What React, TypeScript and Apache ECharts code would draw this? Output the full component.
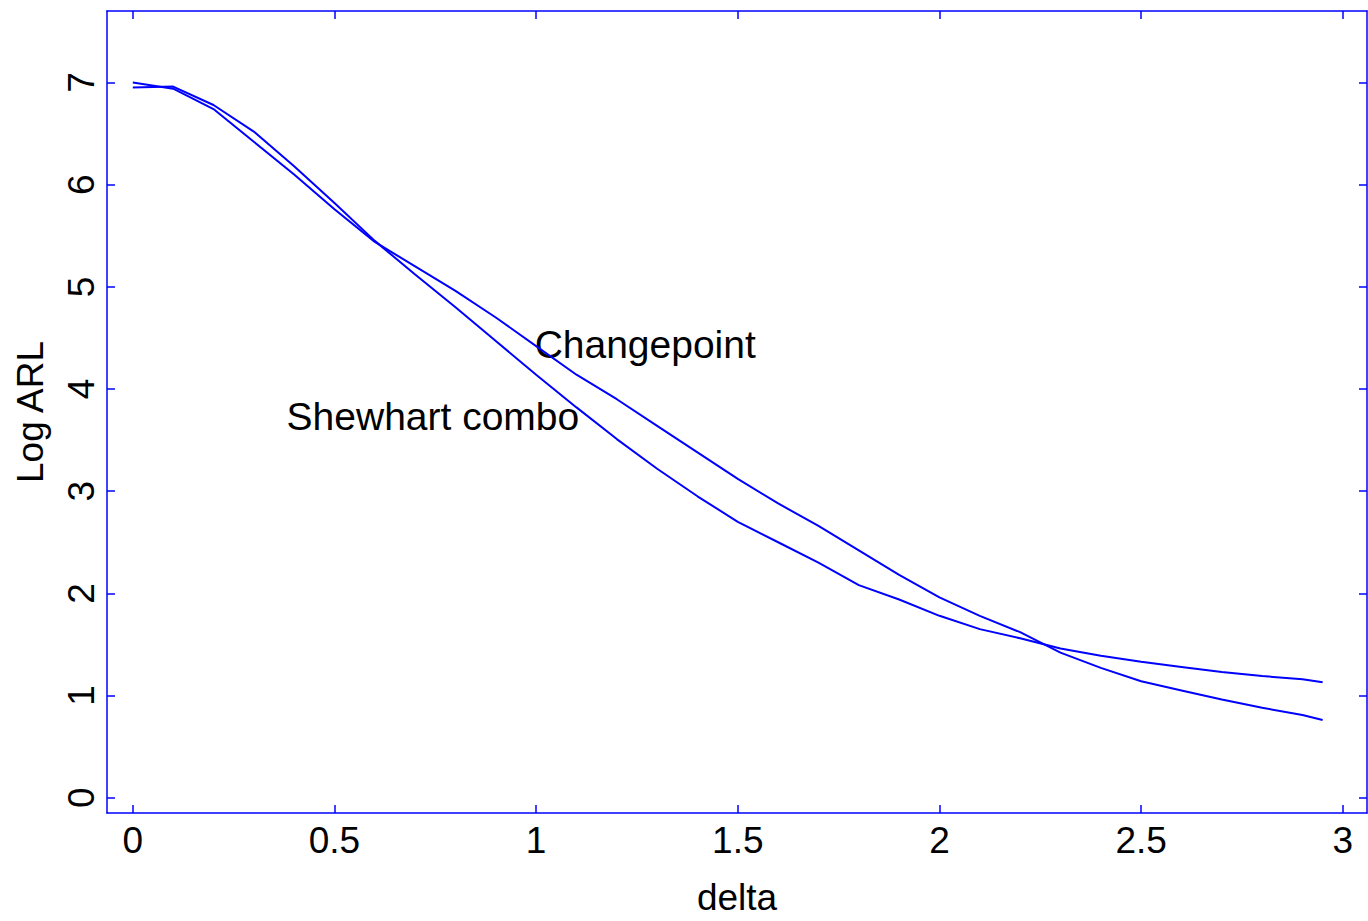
import React, { useEffect, useRef } from "react";
import * as echarts from "echarts";

const delta = [0, 0.1, 0.2, 0.3, 0.4, 0.5, 0.6, 0.7, 0.8, 0.9, 1.0, 1.1, 1.2, 1.3, 1.4, 1.5, 1.6, 1.7, 1.8, 1.9, 2.0, 2.1, 2.2, 2.3, 2.4, 2.5, 2.6, 2.7, 2.8, 2.9, 2.95];
const shewhartCombo = [6.95, 6.96, 6.78, 6.52, 6.18, 5.82, 5.45, 5.12, 4.8, 4.47, 4.14, 3.82, 3.51, 3.22, 2.95, 2.7, 2.5, 2.3, 2.08, 1.94, 1.78, 1.65, 1.56, 1.46, 1.39, 1.33, 1.28, 1.23, 1.19, 1.16, 1.13];
const changepoint = [7.0, 6.94, 6.74, 6.42, 6.1, 5.76, 5.44, 5.2, 4.96, 4.7, 4.42, 4.14, 3.9, 3.64, 3.38, 3.12, 2.88, 2.66, 2.42, 2.18, 1.96, 1.78, 1.62, 1.42, 1.27, 1.14, 1.05, 0.96, 0.88, 0.81, 0.76];

const xTicks = [0, 0.5, 1, 1.5, 2, 2.5, 3];
const yTicks = [0, 1, 2, 3, 4, 5, 6, 7];

const annotationNames = ["Changepoint", "Shewhart combo"];
const annotationX = [0.995, 0.38];
const annotationY = [4.44, 3.73];

const FONT = "'Liberation Sans', Arial, Helvetica, sans-serif";
const BLUE = "#0000ff";

export default function App() {
  const ref = useRef<HTMLDivElement>(null);

  useEffect(() => {
    document.body.style.margin = "0";
    const chart = echarts.init(ref.current!, null, { renderer: "svg" });
    const axisCommon = {
      type: "value" as const,
      splitLine: { show: false },
      axisLine: { show: true, onZero: false, lineStyle: { color: BLUE, width: 1.5 } },
      axisTick: { show: true, inside: true, length: 8, lineStyle: { color: BLUE, width: 1.5 } },
    };
    chart.setOption({
      animation: false,
      backgroundColor: "#ffffff",
      textStyle: { fontFamily: FONT },
      grid: { left: 107, right: 1, top: 11, bottom: 105, containLabel: false },
      xAxis: [
        {
          ...axisCommon,
          position: "bottom",
          min: -0.064,
          max: 3.06,
          name: "delta",
          nameLocation: "middle",
          nameGap: 66,
          nameTextStyle: { color: "#000", fontSize: 37, fontFamily: FONT },
          axisTick: { ...axisCommon.axisTick, customValues: xTicks },
          axisLabel: {
            show: true,
            customValues: xTicks,
            color: "#000",
            fontSize: 37,
            fontFamily: FONT,
            margin: 9,
            formatter: (v: number) => String(v),
          },
        },
        {
          ...axisCommon,
          position: "top",
          min: -0.064,
          max: 3.06,
          axisTick: { ...axisCommon.axisTick, customValues: xTicks },
          axisLabel: { show: false, customValues: xTicks },
        },
      ],
      yAxis: [
        {
          ...axisCommon,
          position: "left",
          min: -0.15,
          max: 7.7,
          name: "Log ARL",
          nameLocation: "middle",
          nameGap: 58,
          nameRotate: 90,
          nameTextStyle: { color: "#000", fontSize: 37, fontFamily: FONT },
          axisTick: { ...axisCommon.axisTick, customValues: yTicks },
          axisLabel: {
            show: true,
            customValues: yTicks,
            rotate: 90,
            color: "#000",
            fontSize: 37,
            fontFamily: FONT,
            margin: 7,
            formatter: (v: number) => String(v),
          },
        },
        {
          ...axisCommon,
          position: "right",
          min: -0.15,
          max: 7.7,
          axisTick: { ...axisCommon.axisTick, customValues: yTicks },
          axisLabel: { show: false, customValues: yTicks },
        },
      ],
      series: [
        {
          name: "Shewhart combo",
          type: "line",
          xAxisIndex: 0,
          yAxisIndex: 0,
          data: delta.map((d, i) => [d, shewhartCombo[i]]),
          showSymbol: false,
          symbol: "none",
          lineStyle: { color: BLUE, width: 2 },
        },
        {
          name: "Changepoint",
          type: "line",
          xAxisIndex: 0,
          yAxisIndex: 0,
          data: delta.map((d, i) => [d, changepoint[i]]),
          showSymbol: false,
          symbol: "none",
          lineStyle: { color: BLUE, width: 2 },
        },
        {
          name: "labels",
          type: "scatter",
          xAxisIndex: 0,
          yAxisIndex: 0,
          symbolSize: 1,
          itemStyle: { color: "#ffffff", opacity: 0 },
          data: annotationNames.map((n, i) => ({ name: n, value: [annotationX[i], annotationY[i]] })),
          label: {
            show: true,
            position: "right",
            distance: 0,
            color: "#000000",
            opacity: 1,
            textBorderWidth: 0,
            fontSize: 39,
            fontFamily: FONT,
            formatter: (p: any) => p.name,
          },
        },
      ],
    });
    return () => chart.dispose();
  }, []);

  return <div ref={ref} style={{ width: 1368, height: 921 }} />;
}
